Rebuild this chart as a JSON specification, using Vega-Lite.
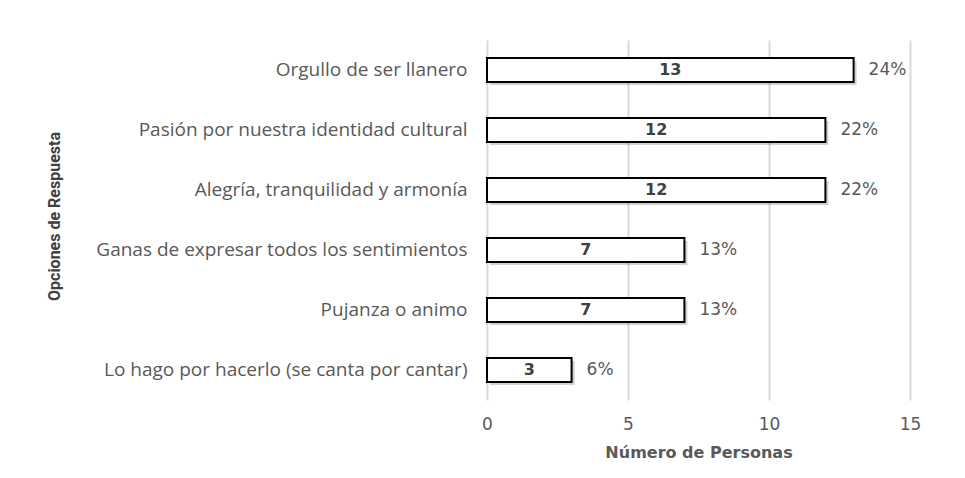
{
  "$schema": "https://vega.github.io/schema/vega-lite/v6.json",
  "autosize": "none",
  "width": 423,
  "height": 360,
  "padding": {"left": 487, "top": 40, "right": 55, "bottom": 78},
  "background": "white",
  "config": {
    "view": {"stroke": null},
    "font": "DejaVu Sans"
  },
  "data": {
    "values": [
      {"opcion": "Orgullo de ser llanero", "n": 13, "pct": "24%"},
      {"opcion": "Pasión por nuestra identidad cultural", "n": 12, "pct": "22%"},
      {"opcion": "Alegría, tranquilidad y armonía", "n": 12, "pct": "22%"},
      {"opcion": "Ganas de expresar todos los sentimientos", "n": 7, "pct": "13%"},
      {"opcion": "Pujanza o animo", "n": 7, "pct": "13%"},
      {"opcion": "Lo hago por hacerlo (se canta por cantar)", "n": 3, "pct": "6%"}
    ]
  },
  "transform": [{"calculate": "datum.n / 2", "as": "mid"}],
  "encoding": {
    "y": {
      "field": "opcion",
      "type": "nominal",
      "sort": null,
      "scale": {"paddingInner": 0.6, "paddingOuter": 0.3},
      "axis": {
        "title": "Opciones de Respuesta",
        "titleFont": "Roboto",
        "titleFontSize": 16,
        "titleFontWeight": "bold",
        "titleColor": "#404040",
        "titleX": -425,
        "titleY": 176,
        "labelFont": "Open Sans",
        "labelFontSize": 19,
        "labelColor": "#595959",
        "labelPadding": 20,
        "labelLimit": 500,
        "ticks": false,
        "domain": false
      }
    },
    "x": {
      "field": "n",
      "type": "quantitative",
      "scale": {"domain": [0, 15], "nice": false},
      "axis": {
        "title": "Número de Personas",
        "titleFontSize": 16,
        "titleFontWeight": "bold",
        "titleColor": "#595959",
        "titlePadding": 12,
        "values": [0, 5, 10, 15],
        "labelFlush": false,
        "labelFontSize": 17,
        "labelColor": "#595959",
        "labelPadding": 16,
        "grid": true,
        "gridColor": "#d9d9d9",
        "gridWidth": 2,
        "ticks": false,
        "domain": false
      }
    }
  },
  "layer": [
    {
      "mark": {"type": "bar", "fill": "#000000", "opacity": 0.18, "xOffset": 3, "yOffset": 3}
    },
    {
      "mark": {"type": "bar", "fill": "white", "stroke": "black", "strokeWidth": 2}
    },
    {
      "mark": {"type": "text", "fontWeight": "bold", "fontSize": 16, "color": "#404040"},
      "encoding": {
        "x": {"field": "mid", "type": "quantitative"},
        "text": {"field": "n", "type": "quantitative"}
      }
    },
    {
      "mark": {"type": "text", "align": "left", "dx": 15, "fontSize": 17, "color": "#595959"},
      "encoding": {
        "text": {"field": "pct", "type": "nominal"}
      }
    }
  ]
}
